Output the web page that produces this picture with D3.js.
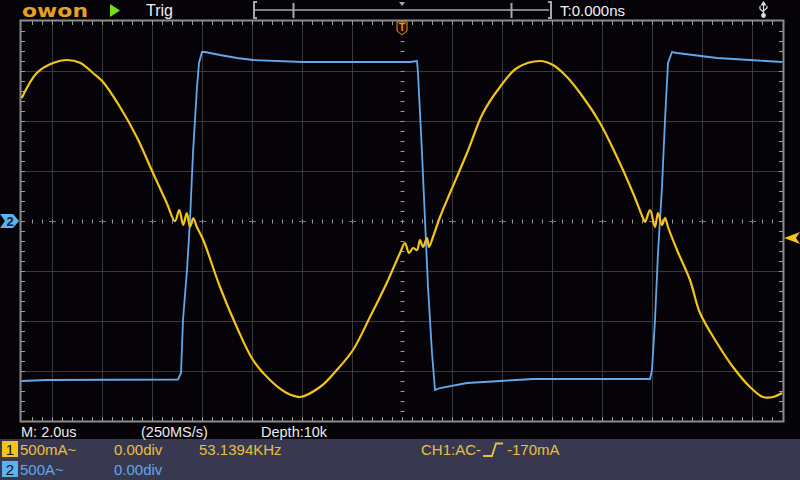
<!DOCTYPE html>
<html><head><meta charset="utf-8">
<script src="https://cdn.jsdelivr.net/npm/d3@7"></script>
<style>html,body{margin:0;padding:0;background:#050308;}svg{display:block;}</style>
</head><body>
<svg id="c" width="800" height="480"></svg>
<script>
// ---- data (time in us, CH1 current in mA, CH2 current in A) ----
const ch1Time = [-15.21,-14.61,-13.96,-13.41,-12.88,-12.36,-11.96,-11.28,-10.61,-9.96,-9.41,-9.08,-8.91,-8.75,-8.61,-8.48,-8.35,-8.21,-7.95,-7.28,-6.61,-5.96,-5.28,-4.61,-4.08,-3.28,-2.61,-1.96,-1.28,-0.61,-0.08,0.12,0.28,0.44,0.6,0.72,0.84,1.0,1.08,1.24,1.52,1.92,2.6,3.24,3.92,4.6,5.52,6.04,6.6,7.24,7.92,8.6,9.24,9.64,9.72,9.92,10.12,10.24,10.4,10.52,10.64,11.0,11.52,11.92,12.6,13.24,13.92,14.44,14.84,15.2];
const ch1Current = [1230,1480,1580,1610,1583,1480,1390,1140,840,480,180,0,110,-40,80,-57,27,-57,-190,-660,-1060,-1390,-1590,-1720,-1760,-1660,-1490,-1290,-960,-620,-320,-220,-320,-270,-290,-190,-260,-170,-260,-160,40,280,680,1080,1340,1530,1600,1560,1440,1240,980,640,280,30,-10,110,-60,80,-40,30,-60,-290,-590,-920,-1220,-1460,-1660,-1760,-1760,-1720];
const ch2Time = [-15.21,-14.2,-8.96,-8.84,-8.76,-8.6,-8.48,-8.36,-8.2,-8.12,-8.0,-7.88,-7.28,-6.6,-5.96,-3.96,0.32,0.6,0.64,0.8,0.92,1.04,1.2,1.32,1.52,2.6,3.92,5.24,9.92,10.0,10.12,10.24,10.4,10.52,10.64,10.8,11.0,11.64,12.6,13.92,15.2];
const ch2Current = [-1600,-1590,-1585,-1520,-990,-490,10,680,1340,1580,1690,1690,1660,1630,1610,1590,1590,1600,1480,680,10,-660,-1320,-1690,-1670,-1620,-1600,-1580,-1580,-1490,-990,-320,340,1010,1580,1690,1680,1660,1630,1610,1590];
const xGridTicks = [-14,-12,-10,-8,-6,-4,-2,2,4,6,8,10,12,14];   // us
const yGridTicks = [-1500,-1000,-500,500,1000,1500];              // mA
const statusTop = {trig:"Trig", time:"T:0.000ns"};
const statusBottom = ["M: 2.0us","(250MS/s)","Depth:10k"];
const ch1Info = ["500mA~","0.00div","53.1394KHz"];
const ch2Info = ["500A~","0.00div"];
const trigInfo = ["CH1:AC-","-170mA"];
const trigLevel = -170; // mA

// ---- layout ----
const svg = d3.select("#c");
const L=21, R=783, T=21, B=421;
const x = d3.scaleLinear().domain([-15.24,15.24]).range([L,R]);
const y1 = d3.scaleLinear().domain([-2000,2000]).range([B,T]);
const y2 = d3.scaleLinear().domain([-2000,2000]).range([B,T]);
const cx = x(0), cy = y1(0);
const font = "'Liberation Sans', Arial, sans-serif";

svg.append("rect").attr("width",800).attr("height",480).attr("fill","#050308");
svg.append("rect").attr("x",0).attr("y",439).attr("width",800).attr("height",41).attr("fill","#383850");

// grid
const g = svg.append("g");
g.selectAll(".vg").data(xGridTicks).join("line")
  .attr("x1",d=>Math.round(x(d))+0.5).attr("x2",d=>Math.round(x(d))+0.5).attr("y1",T).attr("y2",B)
  .attr("stroke","#3a3a3a").attr("stroke-width",1);
g.selectAll(".hg").data(yGridTicks).join("line")
  .attr("y1",d=>Math.round(y1(d))+0.5).attr("y2",d=>Math.round(y1(d))+0.5).attr("x1",L).attr("x2",R)
  .attr("stroke","#3a3a3a").attr("stroke-width",1);
// center dotted axes
const minorX = d3.range(-15.2,15.21,0.4).filter(v=>x(v)>L+2 && x(v)<R-2);
const minorY = d3.range(-2000,2001,100).filter(v=>y1(v)>T+2 && y1(v)<B-2);
g.selectAll(".cxt").data(minorX).join("line")
  .attr("x1",d=>Math.round(x(d))+0.5).attr("x2",d=>Math.round(x(d))+0.5)
  .attr("y1",cy-1.5).attr("y2",cy+2.5).attr("stroke","#9a9a9a");
g.selectAll(".cyt").data(minorY).join("line")
  .attr("y1",d=>Math.round(y1(d))+0.5).attr("y2",d=>Math.round(y1(d))+0.5)
  .attr("x1",cx-1.5).attr("x2",cx+2.5).attr("stroke","#9a9a9a");
g.selectAll(".plus").data(xGridTicks).join("line")
  .attr("x1",d=>Math.round(x(d))-3).attr("x2",d=>Math.round(x(d))+4)
  .attr("y1",Math.round(cy)+0.5).attr("y2",Math.round(cy)+0.5).attr("stroke","#777");
// frame
g.append("rect").attr("x",L-0.5).attr("y",T-0.5).attr("width",R-L+1).attr("height",B-T+1)
  .attr("fill","none").attr("stroke","#8c8c8c").attr("stroke-width",2);
// frame ticks
g.selectAll(".tt").data(minorX).join("line")
  .attr("x1",d=>Math.round(x(d))+0.5).attr("x2",d=>Math.round(x(d))+0.5).attr("y1",T).attr("y2",T+4).attr("stroke","#9a9a9a");
g.selectAll(".bt").data(minorX).join("line")
  .attr("x1",d=>Math.round(x(d))+0.5).attr("x2",d=>Math.round(x(d))+0.5).attr("y1",B-4).attr("y2",B).attr("stroke","#9a9a9a");
g.selectAll(".lt").data(minorY).join("line")
  .attr("y1",d=>Math.round(y1(d))+0.5).attr("y2",d=>Math.round(y1(d))+0.5).attr("x1",L).attr("x2",L+4).attr("stroke","#9a9a9a");
g.selectAll(".rt").data(minorY).join("line")
  .attr("y1",d=>Math.round(y1(d))+0.5).attr("y2",d=>Math.round(y1(d))+0.5).attr("x1",R-4).attr("x2",R).attr("stroke","#9a9a9a");

// traces
const clip = svg.append("clipPath").attr("id","pc").append("rect").attr("x",L).attr("y",T).attr("width",R-L).attr("height",B-T);
const line1 = d3.line().x((d,i)=>x(ch1Time[i])).y((d,i)=>y1(ch1Current[i])).curve(d3.curveCatmullRom.alpha(0.5));
const line2 = d3.line().x((d,i)=>x(ch2Time[i])).y((d,i)=>y2(ch2Current[i])).curve(d3.curveLinear);
svg.append("path").attr("clip-path","url(#pc)").datum(ch2Time).attr("d",line2)
  .attr("fill","none").attr("stroke","#5fa9ec").attr("stroke-width",1.8);
svg.append("path").attr("clip-path","url(#pc)").datum(ch1Time).attr("d",line1)
  .attr("fill","none").attr("stroke","#f4c418").attr("stroke-width",2.2).attr("stroke-linejoin","round");

// markers
svg.append("path").attr("d",`M0,${cy-7} H13 L19,${cy} L13,${cy+7} H0 L5,${cy} Z`).attr("fill","#5ab2ee");
svg.append("text").attr("x",10).attr("y",cy+5).attr("text-anchor","middle").attr("font-family",font)
  .attr("font-weight","bold").attr("font-size",13).attr("fill","#0a2040").text("2");
const ty = y1(trigLevel);
svg.append("path").attr("d",`M784,${ty} L800,${ty-6} L796,${ty} L800,${ty+6} Z`).attr("fill","#f4c418");
svg.append("path").attr("d",`M${cx-5},22 H${cx+5} V31 L${cx},35 L${cx-5},31 Z`).attr("fill","#1a0c00").attr("stroke","#e8902a").attr("stroke-width",1);
svg.append("text").attr("x",cx).attr("y",31).attr("text-anchor","middle").attr("font-family",font)
  .attr("font-weight","bold").attr("font-size",10).attr("fill","#e8902a").text("T");

// top bar
svg.append("text").attr("x",22).attr("y",17).attr("font-family","'DejaVu Sans', sans-serif").attr("font-weight","bold")
  .attr("font-size",18).attr("fill","#e8a020").attr("textLength",66).attr("lengthAdjust","spacingAndGlyphs").text("owon");
svg.append("path").attr("d","M110,4 L120,10.5 L110,17 Z").attr("fill","#74dc1c");
svg.append("text").attr("x",146).attr("y",16).attr("font-family",font).attr("font-size",16).attr("fill","#f0f0f0").text(statusTop.trig);
const br = svg.append("g").attr("stroke","#a8a8a8").attr("fill","none").attr("stroke-width",2);
br.append("path").attr("d","M257,2 H254 V18 H257");
br.append("path").attr("d","M548,2 H551 V18 H548");
br.append("line").attr("x1",255).attr("x2",549).attr("y1",10).attr("y2",10).attr("stroke-width",1.5);
br.append("line").attr("x1",293.5).attr("x2",293.5).attr("y1",3).attr("y2",18);
br.append("line").attr("x1",511.5).attr("x2",511.5).attr("y1",3).attr("y2",18);
svg.append("path").attr("d",`M${cx-3},2 H${cx+3} L${cx},6 Z`).attr("fill","#a8a8a8");
svg.append("text").attr("x",560).attr("y",16).attr("font-family",font).attr("font-size",15).attr("fill","#f0f0f0").text(statusTop.time);
const usb = svg.append("g").attr("stroke","#e0e0e0").attr("fill","none").attr("stroke-width",1.2);
usb.append("line").attr("x1",763.5).attr("x2",763.5).attr("y1",4).attr("y2",14);
usb.append("path").attr("d","M761.5,5 L763.5,2 L765.5,5 Z").attr("fill","#e0e0e0");
usb.append("path").attr("d","M763.5,12 L760,9 V6 M763.5,11 L767,8 V6");
usb.append("circle").attr("cx",763.5).attr("cy",15.5).attr("r",1.8).attr("fill","#e0e0e0");

// bottom status
statusBottom.forEach((t,i)=>{
  svg.append("text").attr("x",[21,141,261][i]).attr("y",437).attr("font-family",font).attr("font-size",14.5)
    .attr("fill","#ececec").text(t);
});
svg.append("rect").attr("x",2).attr("y",441).attr("width",16).attr("height",16).attr("fill","#f4c418");
svg.append("text").attr("x",10).attr("y",455).attr("text-anchor","middle").attr("font-family",font).attr("font-size",15).attr("fill","#111").text("1");
svg.append("rect").attr("x",2).attr("y",461).attr("width",16).attr("height",16).attr("fill","#5ab2ee");
svg.append("text").attr("x",10).attr("y",475).attr("text-anchor","middle").attr("font-family",font).attr("font-size",15).attr("fill","#111").text("2");
ch1Info.forEach((t,i)=>{
  svg.append("text").attr("x",[20,114,199][i]).attr("y",455).attr("font-family",font).attr("font-size",15)
    .attr("fill","#e8c040").text(t);
});
ch2Info.forEach((t,i)=>{
  svg.append("text").attr("x",[20,114][i]).attr("y",475).attr("font-family",font).attr("font-size",15)
    .attr("fill","#5eaaf0").text(t);
});
svg.append("text").attr("x",421).attr("y",455).attr("font-family",font).attr("font-size",15).attr("fill","#e8c040").text(trigInfo[0]);
svg.append("path").attr("d","M483,456 H492 L496,443.5 H503").attr("fill","none").attr("stroke","#e8c040").attr("stroke-width",1.8);
svg.append("text").attr("x",507).attr("y",455).attr("font-family",font).attr("font-size",15).attr("fill","#e8c040").text(trigInfo[1]);
</script>
</body></html>
